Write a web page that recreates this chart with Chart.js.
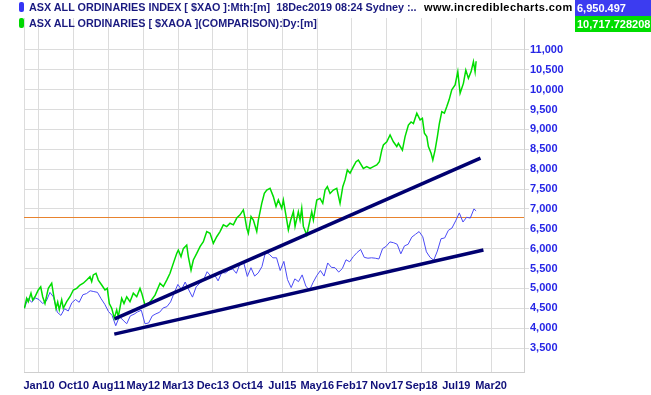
<!DOCTYPE html>
<html>
<head>
<meta charset="utf-8">
<script src="https://cdn.jsdelivr.net/npm/chart.js@4.4.1/dist/chart.umd.min.js"></script>
<style>
  body { margin: 0; background: #fff; }
  #wrap { position: relative; width: 651px; height: 395px; font-family: "Liberation Sans", Arial, sans-serif; }
  #chart { position: absolute; left: 0; top: 0; }
  .row { position: absolute; left: 29px; font-weight: bold; font-size: 10.8px; line-height: 13px; color: #1a1a80; white-space: nowrap; }
  .swatch { position: absolute; left: 19px; width: 5px; height: 10px; border-radius: 2px; }
  .site { position: absolute; left: 424px; top: 1px; font-weight: bold; font-size: 11px; letter-spacing: 0.4px; line-height: 13px; color: #000; white-space: nowrap; }
  .box { position: absolute; left: 575px; width: 76px; height: 16px; color: #fff; font-weight: bold; font-size: 11px; line-height: 16px; padding-left: 2px; box-sizing: border-box; white-space: nowrap; }
</style>
</head>
<body>
<div id="wrap">
  <canvas id="chart" width="651" height="395"></canvas>
  <div class="swatch" style="top:2px;background:#3535f5"></div>
  <div class="row" style="top:1px">ASX ALL ORDINARIES INDEX [ $XAO ]:Mth:[m]&nbsp; 18Dec2019 08:24 Sydney :..</div>
  <div class="site">www.incrediblecharts.com</div>
  <div class="box" style="top:0px;background:#3c3cf0">6,950.497</div>
  <div class="swatch" style="top:18px;background:#00d800"></div>
  <div class="row" style="top:17px">ASX ALL ORDINARIES [ $XAOA ](COMPARISON):Dy:[m]</div>
  <div class="box" style="top:16px;background:#00dd00">10,717.728208</div>
</div>
<script>
// x axis is in months counted from 1 Jan 2010
var xTickLabels = ["Jan10", "Oct10", "Aug11", "May12", "Mar13", "Dec13", "Oct14",
  "Jul15", "May16", "Feb17", "Nov17", "Sep18", "Jul19", "Mar20"];
var xTickStep = 9.515; // months between gridlines
var xMin = -4.1, xMax = 132.7;
var yMin = 2896, yMax = 11805;
var yTickFrom = 3500, yTickTo = 11000, yTickStep = 500;

// XAO monthly closes, Aug 2009 .. Dec 2019 (each close sits at month end)
var blueStart = -4;
var lastMonth = 119.6; // 18 Dec 2019
var blueValues = [
  4500, 4750, 4650, 4760, 4720,
  4620, 4680, 4900, 4780, 4400, 4320, 4490, 4430, 4640, 4720, 4650, 4840,
  4870, 4940, 4920, 4900, 4740, 4600, 4420, 4320, 4060, 4290, 4200, 4110,
  4310, 4350, 4410, 4450, 4110, 4130, 4310, 4360, 4400, 4510, 4540, 4660,
  4890, 5100, 4970, 5160, 4960, 4780, 5040, 5130, 5210, 5420, 5310, 5350,
  5190, 5400, 5390, 5460, 5490, 5380, 5620, 5650, 5300, 5520, 5310, 5390,
  5550, 5920, 5860, 5770, 5770, 5450, 5680, 5220, 5020, 5240, 5170, 5340,
  5060, 4950, 5150, 5320, 5450, 5310, 5640, 5530, 5520, 5410, 5500, 5720,
  5670, 5800, 5900, 5980, 5780, 5760, 5770, 5760, 5740, 6000, 6060, 6170,
  6150, 6110, 5870, 6070, 6110, 6290, 6360, 6430, 6300, 5920, 5780, 5710,
  5940, 6250, 6270, 6460, 6520, 6700, 6900, 6670, 6790, 6770, 7000, 6950
];

// XAOA comparison (daily)
var greenMonths = [
  -4.0, -3.37, -2.93, -2.19, -1.72, -1.09, -0.19, 0.47, 1.01, 1.64,
  2.55, 3.48, 3.91, 4.65, 5.12, 5.56, 6.21, 6.65, 7.58, 8.48,
  9.39, 10.32, 11.22, 12.12, 13.05, 13.96, 14.42, 14.86, 15.6, 16.23,
  17.16, 18.06, 18.69, 19.24, 19.9, 20.61, 21.26, 21.7, 22.63, 23.26,
  24.0, 24.9, 25.81, 26.74, 27.64, 28.11, 29.01, 29.91, 30.38, 31.75,
  33.11, 34.02, 34.95, 35.85, 36.75, 37.68, 38.12, 38.86, 39.49, 40.42,
  40.86, 41.6, 42.23, 43.16, 44.06, 44.97, 45.9, 46.8, 47.7, 48.63,
  49.53, 50.44, 51.37, 52.27, 53.18, 54.11, 55.01, 55.91, 56.38, 56.84,
  57.28, 58.02, 58.65, 59.58, 60.02, 60.95, 61.66, 62.32, 63.22, 64.12,
  64.86, 65.49, 66.42, 66.86, 67.79, 68.23, 68.88, 69.6, 70.06, 70.96,
  71.43, 71.89, 72.33, 73.26, 73.97, 74.63, 75.07, 76.0, 76.9, 77.64,
  78.27, 78.9, 79.64, 80.54, 81.47, 82.37, 83.12, 83.74, 84.37, 85.11,
  86.01, 86.75, 87.38, 88.75, 89.68, 90.59, 91.49, 92.42, 93.13, 93.79,
  94.23, 95.16, 96.06, 96.96, 97.89, 98.33, 99.43, 100.16, 101.07, 101.81,
  102.44, 103.37, 104.27, 104.9, 105.45, 106.1, 106.54, 107.28, 107.75, 108.37,
  109.0, 109.55, 110.21, 110.92, 111.58, 112.21, 112.94, 113.85, 114.59, 115.22,
  116.12, 116.78, 117.49, 118.23, 118.86, 119.32, 119.6
];
var greenValues = [
  4500, 4750, 4665, 4880, 4710, 4790, 4960, 5040, 4790, 4620,
  5000, 5130, 4880, 4500, 4660, 4460, 4710, 4500, 4665, 4790,
  4960, 5000, 5085, 5130, 5210, 5295, 5170, 5340, 5380, 5210,
  5085, 4960, 5000, 4620, 4500, 4250, 4460, 4290, 4750, 4620,
  4790, 4665, 4880, 4790, 5000, 4880, 4580, 4620, 4660, 4830,
  5130, 5045, 5210, 5380, 5630, 5880, 5965, 5800, 6000, 6090,
  5800, 5460, 5715, 5880, 6050, 6175, 6430, 6385, 6135, 6300,
  6430, 6600, 6555, 6640, 6600, 6770, 6850, 6975, 6770, 6520,
  6390, 6810, 6720, 6430, 6720, 7140, 7390, 7475, 7520, 7310,
  7060, 7225, 7015, 7225, 6720, 6470, 6720, 6930, 6560, 6930,
  6720, 7015, 6560, 6345, 6640, 6930, 6720, 7225, 7265, 7140,
  7475, 7560, 7390, 7475, 7520, 7140, 7560, 7730, 7980, 7900,
  8065, 8190, 8230, 8020, 8065, 8020, 8065, 8105, 8190, 8480,
  8610, 8690, 8860, 8690, 8570, 8650, 8480, 8820, 9110, 9190,
  9150, 9410, 9240, 9280, 8905, 8820, 8570, 8400, 8230, 8480,
  8820, 9150, 9450, 9410, 9575, 9745, 9995, 10120, 10455, 9910,
  10160, 10495, 10290, 10455, 10705, 10450, 10717
];

// hand drawn trend lines and horizontal level
var upperTrendMonths = [20.7, 120.8];
var upperTrendValues = [4235, 8280];
var lowerTrendMonths = [20.6, 121.6];
var lowerTrendValues = [3850, 5965];
var refLevel = 6784;

function zip(xs, ys) {
  return ys.map(function (y, i) { return { x: xs[i], y: y }; });
}

var bluePoints = blueValues.map(function (v, i) {
  return { x: i === blueValues.length - 1 ? lastMonth : blueStart + i, y: v };
});

var gridColor = "#dcdcdc";

new Chart(document.getElementById("chart").getContext("2d"), {
  type: "line",
  data: {
    datasets: [
      { data: zip(upperTrendMonths, upperTrendValues), borderColor: "#000070", borderWidth: 3.5 },
      { data: zip(lowerTrendMonths, lowerTrendValues), borderColor: "#000070", borderWidth: 3.5 },
      { data: zip(greenMonths, greenValues), borderColor: "#00dd00", borderWidth: 1.5 },
      { data: bluePoints, borderColor: "#4a4af5", borderWidth: 1 },
      { data: [{ x: xMin, y: refLevel }, { x: xMax, y: refLevel }], borderColor: "#e8832e", borderWidth: 1 }
    ]
  },
  options: {
    responsive: false,
    animation: false,
    events: [],
    elements: { point: { radius: 0 }, line: { tension: 0, fill: false } },
    layout: { padding: { left: 24, top: 18, right: 0, bottom: 0 } },
    plugins: { legend: { display: false }, tooltip: { enabled: false } },
    scales: {
      x: {
        type: "linear",
        min: xMin,
        max: xMax,
        afterBuildTicks: function (scale) {
          var t = [{ value: xMin }];
          xTickLabels.forEach(function (l, i) { t.push({ value: i * xTickStep }); });
          scale.ticks = t;
        },
        afterFit: function (scale) { scale.height = 23; },
        grid: { color: gridColor, drawTicks: false },
        border: { color: "#cfcfcf" },
        ticks: {
          autoSkip: false,
          maxRotation: 0,
          padding: 7,
          color: "#10107a",
          font: { family: "Liberation Sans", size: 11, weight: "bold" },
          callback: function (v, i) { return i === 0 ? "" : xTickLabels[i - 1]; }
        }
      },
      y: {
        type: "linear",
        position: "right",
        min: yMin,
        max: yMax,
        afterBuildTicks: function (scale) {
          var t = [];
          for (var v = yTickFrom; v <= yTickTo; v += yTickStep) t.push({ value: v });
          scale.ticks = t;
        },
        afterFit: function (scale) { scale.width = 127; },
        grid: { color: gridColor, tickLength: 5 },
        border: { color: "#cfcfcf" },
        ticks: {
          padding: 1,
          color: "#2626e6",
          font: { family: "Liberation Sans", size: 11, weight: "bold" },
          callback: function (v) { return v.toLocaleString("en-US"); }
        }
      }
    }
  }
});
</script>
</body>
</html>
